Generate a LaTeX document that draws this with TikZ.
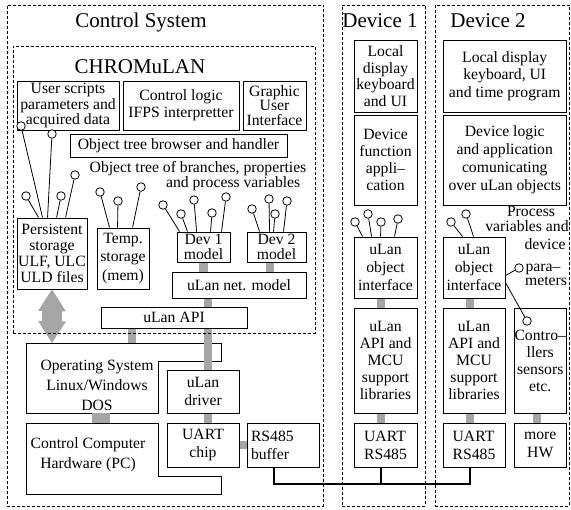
\documentclass[tikz,border=0pt]{standalone}
\usepackage{fontspec}
\setmainfont{Liberation Serif}
\usetikzlibrary{calc,backgrounds}

\definecolor{bargrey}{RGB}{165,165,165}
\newcommand\bodysize[1]{\fontsize{15.7}{#1}\selectfont}
% lollipop: knob name, knob centre, box node, x offset of the stem foot on the box top
\newcommand\lolli[4]{%
  \node[knob] (#1) at (#2) {};
  \draw[stem] (#1) -- ($(#3.north west)+(#4,0)$);}

\begin{document}
\begin{tikzpicture}[x=1pt,y=-1pt,
  sz/.style 2 args={minimum width=#1pt, minimum height=#2pt},
  box/.style={draw, line width=0.9pt, inner sep=0pt, align=center, font=\bodysize{16}},
  group/.style={draw, dash pattern=on 3pt off 2pt, line width=0.8pt, inner sep=0pt},
  title/.style={font=\fontsize{21}{24}\selectfont, inner sep=0pt},
  lbl/.style={font=\bodysize{13}, inner sep=0pt},
  knob/.style={circle, draw, fill=white, line width=0.8pt, inner sep=0pt, minimum size=8.5pt},
  stem/.style={line width=0.8pt},
  bar/.style={draw=bargrey, line width=8.5pt},
  bus/.style={line width=1.2pt}]
\useasboundingbox (0,0) rectangle (571,510);

% ---- dashed system borders and titles
\node[group, sz={316}{501.5}] (ctrlsys) at (165,255.75) {};
\node[group, sz={302}{287}] (chromulan) at (164,189.5) {};
\node[group, sz={83}{501.5}] (dev1) at (383.5,255.75) {};
\node[group, sz={134}{501.5}] (dev2) at (502,255.75) {};
\node[title] (tcs) at (141,22) {Control System};
\node[title] (tch) at (140,67) {CHROMuLAN};
\node[title] (td1) at (380,21) {Device 1};
\node[title] (td2) at (488,21) {Device 2};

% ---- CHROMuLAN blocks
\node[box, sz={102}{49}, font=\bodysize{14.2}] (userdata) at (68,105.5) {User scripts\\parameters and\\acquired data};
\node[box, sz={116}{49}, font=\bodysize{17}] (ctrllogic) at (181,105.5) {Control logic\\IFPS interpretter};
\node[box, sz={63}{49}, font=\bodysize{14.6}] (gui) at (274.5,105.5) {Graphic\\User\\Interface};
\node[box, sz={217}{23}] (browser) at (178.5,145.5) {Object tree browser and handler};
\node[lbl, align=right, font=\bodysize{13.8}] (treelbl) at (198,176.5) {Object tree of branches, properties\\and process variables\hspace*{6pt}};
\node[box, sz={70}{71}, font=\bodysize{16}] (persist) at (52,253.5) {Persistent\\storage\\ULF, ULC\\ULD files};
\node[box, sz={52}{61}, font=\bodysize{18.5}] (temp) at (123,258.5) {Temp.\\storage\\(mem)};
\node[box, sz={53}{30}, font=\bodysize{15}] (dev1m) at (203.5,247) {Dev 1\\model};
\node[box, sz={59}{30}, font=\bodysize{15}] (dev2m) at (276.5,247) {Dev 2\\model};
\node[box, sz={134}{26}] (netmodel) at (239,285) {uLan net. model};
\node[box, sz={146}{21}] (api) at (174,317.5) {uLan API};

% ---- host system and hardware
\node[inner sep=0pt, align=center, font=\bodysize{20}] (ostext) at (97,385) {Operating System\\Linux/Windows\\DOS};
\node[inner sep=0pt, align=center, font=\bodysize{20}] (hwtext) at (88,455) {Control Computer\\Hardware (PC)};
\node[box, sz={72}{43}, font=\bodysize{18}] (driver) at (203,391.5) {uLan\\driver};
\node[box, sz={72}{44}, font=\bodysize{18}] (uartchip) at (203,445) {UART\\chip};
\node[box, sz={72}{44}, font=\bodysize{18}, text width=64pt, align=left] (rsbuf) at (283,445) {RS485\\buffer};
\coordinate (ostop) at (52,343);
\coordinate (osbot) at (101,413);
\coordinate (hwtop) at (101,423);

% ---- Device 1
\node[box, sz={63}{72}, font=\bodysize{16.5}] (d1disp) at (385.5,76) {Local\\display\\keyboard\\and UI};
\node[box, sz={63}{90}, font=\bodysize{17}] (d1func) at (385.5,160) {Device\\function\\appli\textendash\\cation};
\node[box, sz={63}{61}, font=\bodysize{18}] (d1obj) at (385.5,267.5) {uLan\\object\\interface};
\node[box, sz={63}{105}, font=\bodysize{17}] (d1api) at (385.5,360.5) {uLan\\API and\\MCU\\support\\libraries};
\node[box, sz={63}{44}, font=\bodysize{18}, align=left] (d1uart) at (385.5,445) {UART\\RS485};

% ---- Device 2
\node[box, sz={123.5}{72}, font=\bodysize{17.5}] (d2disp) at (504.75,76) {Local display\\keyboard, UI\\and time program};
\node[box, sz={123.5}{90}, font=\bodysize{18}] (d2logic) at (504.75,160) {Device logic\\and application\\comunicating\\over uLan objects};
\node[box, sz={62}{61}, font=\bodysize{18}] (d2obj) at (474,267.5) {uLan\\object\\interface};
\node[box, sz={62}{105}, font=\bodysize{17}] (d2api) at (474,360.5) {uLan\\API and\\MCU\\support\\libraries};
\node[box, sz={52.5}{105}, font=\bodysize{17}] (d2ctrl) at (540.25,360.5) {Contro\textendash\\llers\\sensors\\etc.};
\node[box, sz={62}{44}, font=\bodysize{18}, align=left] (d2uart) at (474,445) {UART\\RS485};
\node[box, sz={52.5}{44}, font=\bodysize{18}] (d2hw) at (540.25,445) {more\\HW};
\node[lbl, anchor=base] (pv1) at (531,216.3) {Process};
\node[lbl, anchor=base] (pv2) at (527,231.8) {variables and};
\node[lbl, anchor=base] (pv3) at (545,249.5) {device};
\node[lbl, anchor=base] (pv4) at (543,271.5) {para\textendash};
\node[lbl, anchor=base] (pv5) at (546,286) {meters};

% ---- columns used by the grey links and the bus
\coordinate (cA) at (132,0);
\coordinate (cB) at (208,0);
\coordinate (cC) at (270,0);
\coordinate (cD) at (381,0);
\coordinate (cE) at (470,0);
\coordinate (cF) at (537,0);
\coordinate (cG) at (274,0);
\coordinate (busy) at (0,484);

\begin{pgfonlayer}{background}
  % operating system and PC hardware outlines
  \draw[line width=0.9pt] (26,343) -- (221,343) -- (221,361) -- (158,361) -- (158,413) -- (26,413) -- cycle;
  \draw[line width=0.9pt] (26,423) -- (158,423) -- (158,476) -- (221,476) -- (221,494) -- (26,494) -- cycle;
  % grey software/hardware links
  \draw[bar] (dev1m.south) -- (dev1m.south |- netmodel.north);
  \draw[bar] (cC |- dev2m.south) -- (cC |- netmodel.north);
  \draw[bar] (cB |- netmodel.south) -- (cB |- api.north);
  \draw[bar] (cA |- api.south) -- (cA |- ostop);
  \draw[bar] (cB |- api.south) -- (cB |- driver.north);
  \draw[bar] (cB |- driver.south) -- (cB |- uartchip.north);
  \draw[bar] (uartchip.east) -- (rsbuf.west);
  \draw[bar, line width=18pt] (osbot) -- (hwtop);
  \draw[bar] (cD |- d1obj.south) -- (cD |- d1api.north);
  \draw[bar] (cD |- d1api.south) -- (cD |- d1uart.north);
  \draw[bar] (cE |- d2obj.south) -- (cE |- d2api.north);
  \draw[bar] (cE |- d2api.south) -- (cE |- d2uart.north);
  \draw[bar] (cF |- d2ctrl.south) -- (cF |- d2hw.north);
  % storage <-> operating system double arrow
  \fill[bargrey] (persist.south) -- ++(14,22) -- ++(-4,0) -- ++(0,10) -- ++(4,0) -- (ostop)
    -- ++(-14,-22) -- ++(4,0) -- ++(0,-10) -- ++(-4,0) -- cycle;
\end{pgfonlayer}

% ---- RS485 bus
\draw[bus] (cG |- rsbuf.south) -- (cG |- busy) -- (cE |- busy) -- (cE |- d2uart.south);
\draw[bus] (cD |- d1uart.south) -- (cD |- busy);

% ---- object tree lollipops
\lolli{kp1}{26,196}{persist}{22}
\lolli{kp2}{21,126}{persist}{26}
\lolli{kp3}{52,134}{persist}{31}
\lolli{kp4}{61,196}{persist}{40}
\lolli{kp5}{75,175}{persist}{49}
\lolli{kt1}{100,192}{temp}{13}
\lolli{kt2}{118,201}{temp}{21}
\lolli{kt3}{141,187}{temp}{36}
\lolli{ka1}{163,205}{dev1m}{3}
\lolli{ka2}{181,214}{dev1m}{11}
\lolli{ka3}{194,200}{dev1m}{20}
\lolli{ka4}{212,213}{dev1m}{34}
\lolli{ka5}{226,197}{dev1m}{45}
\lolli{kb1}{252,209}{dev2m}{13}
\lolli{kb2}{269,199}{dev2m}{23}
\lolli{kb3}{275,214}{dev2m}{27}
\lolli{kb4}{287,201}{dev2m}{37}
\lolli{kc1}{355,222}{d1obj}{9}
\lolli{kc2}{368,214}{d1obj}{18}
\lolli{kc3}{381,222}{d1obj}{27}
\lolli{kc4}{398,219}{d1obj}{41}
\lolli{kd1}{451,222}{d2obj}{20}
\lolli{kd2}{466,214}{d2obj}{31}
\node[knob] (ke1) at (519,268) {};
\draw[stem] (ke1) -- ($(d2obj.north east)+(0,39)$);
\node[knob] (ke2) at (527,321) {};
\draw[stem] (ke2) -- ($(d2obj.north east)+(0,46)$);
\end{tikzpicture}
\end{document}
